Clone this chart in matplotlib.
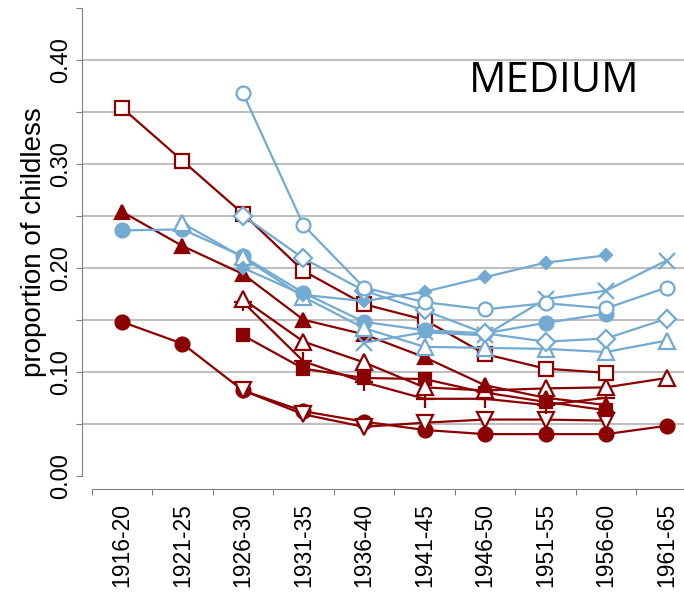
import numpy as np
import matplotlib
matplotlib.use('Agg')
import matplotlib.pyplot as plt

nan = np.nan
cohorts = ['1916-20', '1921-25', '1926-30', '1931-35', '1936-40',
           '1941-45', '1946-50', '1951-55', '1956-60', '1961-65']

# red series
red_open_sq = [0.354, 0.303, 0.252, 0.197, 0.165, 0.150, 0.117, 0.103, 0.099, nan]
red_fill_tri = [0.254, 0.221, 0.194, 0.150, 0.136, 0.114, 0.087, 0.075, 0.068, nan]
red_fill_circ = [0.148, 0.127, 0.082, 0.062, 0.052, 0.044, 0.040, 0.040, 0.040, 0.048]
red_open_dtri = [nan, nan, 0.082, 0.059, 0.047, 0.051, 0.054, 0.054, 0.053, nan]
red_open_tri = [nan, nan, 0.170, 0.129, 0.109, 0.085, 0.082, 0.084, 0.085, 0.094]
red_plus = [nan, nan, 0.167, 0.110, 0.090, 0.074, 0.074, 0.068, 0.075, nan]
red_fill_sq = [nan, nan, 0.135, 0.103, 0.094, 0.093, 0.080, 0.071, 0.063, nan]

# blue series
blue_fill_circ = [0.236, 0.237, 0.211, 0.176, 0.148, 0.140, 0.137, 0.147, 0.156, nan]
blue_open_tri = [nan, 0.243, 0.210, 0.172, 0.142, 0.124, 0.123, 0.122, 0.119, 0.130]
blue_open_circ = [nan, nan, 0.368, 0.241, 0.181, 0.167, 0.160, 0.166, 0.161, 0.181]
blue_open_diam = [nan, nan, 0.250, 0.209, 0.178, 0.159, 0.137, 0.129, 0.132, 0.151]
blue_fill_diam = [nan, nan, 0.200, 0.174, 0.168, 0.177, 0.191, 0.205, 0.212, nan]
blue_x = [nan, nan, nan, nan, 0.128, 0.138, 0.135, 0.170, 0.178, 0.207]

RED = '#8B0000'
BLUE = '#72AAD2'

plt.rcParams['font.family'] = ['Liberation Sans', 'DejaVu Sans']

fig = plt.figure(figsize=(6.84, 6.01), dpi=100)
ax = fig.add_axes([82/684, 1-475.7/601, 1-82/684, (475.7-8)/601])

x = np.arange(len(cohorts))

def draw(vals, color, marker, ms, filled):
    v = np.array(vals, dtype=float)
    m = ~np.isnan(v)
    ax.plot(x[m], v[m], color=color, lw=1.6, marker=marker, ms=ms,
            mfc=color if filled else 'white', mec=color, mew=1.6, clip_on=False)

draw(red_fill_circ, RED, 'o', 10, True)
draw(red_open_dtri, RED, 'v', 11, False)
draw(red_fill_sq, RED, 's', 8, True)
draw(red_plus, RED, '+', 13, True)
draw(red_open_tri, RED, '^', 11, False)
draw(red_fill_tri, RED, '^', 10, True)
draw(red_open_sq, RED, 's', 10, False)

draw(blue_fill_circ, BLUE, 'o', 10, True)
draw(blue_open_tri, BLUE, '^', 12, False)
draw(blue_x, BLUE, 'x', 11, False)
draw(blue_fill_diam, BLUE, 'D', 6, True)
draw(blue_open_diam, BLUE, 'D', 9, False)
draw(blue_open_circ, BLUE, 'o', 10, False)

for g in np.arange(0.05, 0.401, 0.05):
    ax.axhline(g, color='#BFBFBF', lw=1.5, zorder=0)

ax.spines['top'].set_visible(False)
ax.spines['right'].set_visible(False)
ax.spines['left'].set_color('#808080')
ax.spines['bottom'].set_color('#808080')
ax.spines['bottom'].set_position(('outward', 9.5))
ax.spines['bottom'].set_bounds(-0.5, 9.5)

ax.set_yticks(np.arange(0, 0.451, 0.05))
ax.set_yticklabels(['0.00', '', '0.10', '', '0.20', '', '0.30', '', '0.40', ''],
                   rotation=90, va='center', fontsize=17)
ax.tick_params(axis='y', colors='#808080', length=4, labelcolor='black', pad=3)

ax.set_xticks(np.arange(-0.5, 9.6, 1))
ax.set_xticklabels([])
ax.set_xticks(x, minor=True)
ax.set_xticklabels(cohorts, minor=True, rotation=90, fontsize=16.5)
ax.tick_params(axis='x', which='major', colors='#808080', length=4)
ax.tick_params(axis='x', which='minor', length=0, pad=10, labelcolor='black')

# limits after ticks, set_ticks widens the view otherwise
ax.set_xlim(-0.661, 9.289)
ax.set_ylim(0, 0.45)

ax.set_ylabel('proportion of childless', fontsize=20, labelpad=2)

ax.text(0.784, 0.843, 'MEDIUM', transform=ax.transAxes, fontsize=30,
        ha='center', va='center', family=['Open Sans', 'DejaVu Sans'])

fig.savefig('out.png', dpi=100)
